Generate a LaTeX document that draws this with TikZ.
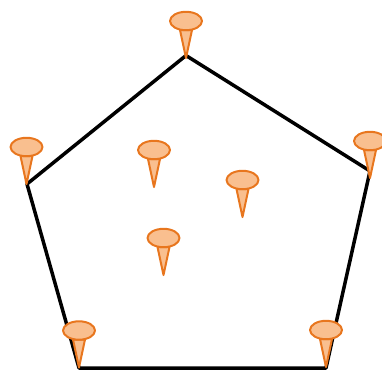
\documentclass[tikz,border=0pt]{standalone}
\definecolor{pinedge}{HTML}{E8761E}
\definecolor{pinfill}{HTML}{F9BF8F}
\tikzset{x=1pt,y=-1pt,
  polyline/.style={line width=3.5pt,black,line join=round,line cap=round},
  pinpart/.style={draw=pinedge,fill=pinfill,line width=2pt,line join=round},
  pushpin/.pic={
    \path[pinpart] (-6,-28) -- (0,0) -- (6,-28) -- cycle;
    \path[pinpart] (0,-37) ellipse[x radius=16,y radius=9.2];
  }}
\begin{document}
\begin{tikzpicture}
\useasboundingbox (0,0) rectangle (382,370);
\coordinate (v1) at (186,55.5);
\coordinate (v2) at (370,171);
\coordinate (v3) at (326,368);
\coordinate (v4) at (79,368);
\coordinate (v5) at (27,184);
\draw[polyline] (v1) -- (v2) -- (v3) -- (v4) -- (v5) -- cycle;
\pic at (186,58) {pushpin};
\pic at (26.5,184) {pushpin};
\pic at (370,178) {pushpin};
\pic at (154,187) {pushpin};
\pic at (242.5,217) {pushpin};
\pic at (163.5,275) {pushpin};
\pic at (79,367.5) {pushpin};
\pic at (326,367) {pushpin};
\end{tikzpicture}
\end{document}
